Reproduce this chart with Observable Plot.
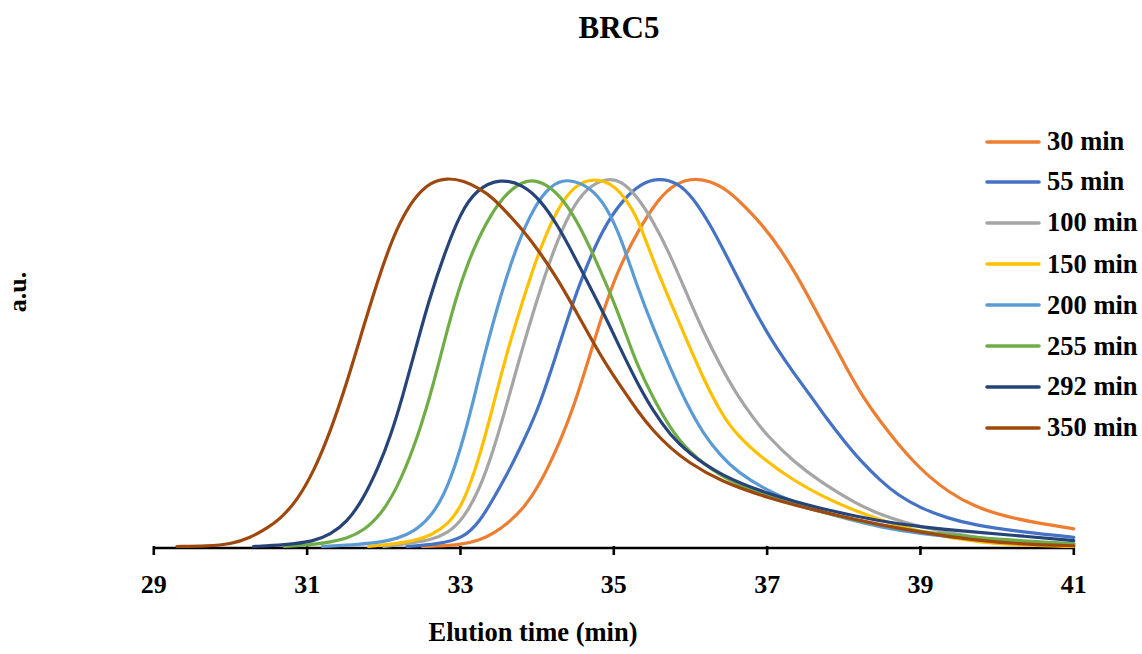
<!DOCTYPE html>
<html>
<head>
<meta charset="utf-8">
<script src="https://cdn.jsdelivr.net/npm/d3@7"></script>
<script src="https://cdn.jsdelivr.net/npm/@observablehq/plot@0.6"></script>
<style>
  html, body { margin: 0; padding: 0; background: #fff; }
  #wrap { position: relative; width: 1142px; height: 654px; font-family: "Liberation Serif", "Times New Roman", serif; font-weight: bold; color: #000; }
  #chart { position: absolute; left: 0; top: 0; }
  .title { position: absolute; left: 0; width: 1238px; top: 10px; text-align: center; font-size: 31px; }
  .xlab { position: absolute; left: 333px; width: 400px; top: 617px; text-align: center; font-size: 26.5px; }
  .ylab { position: absolute; left: 18px; top: 292px; font-size: 26px; transform: translate(-50%, -50%) rotate(-90deg); white-space: nowrap; }
  .legend { position: absolute; left: 985px; top: 0; }
  .legend .row { position: absolute; left: 0; height: 30px; display: flex; align-items: center; white-space: nowrap; font-size: 26.5px; }
  .legend svg { display: block; margin-right: 6px; }
</style>
</head>
<body>
<div id="wrap">
  <div id="chart"></div>
  <div class="title">BRC5</div>
  <div class="xlab">Elution time (min)</div>
  <div class="ylab">a.u.</div>
  <div class="legend" id="legend"></div>
</div>
<script>
// Series names and colours
const seriesNames = ["30 min", "55 min", "100 min", "150 min", "200 min", "255 min", "292 min", "350 min"];
const seriesColors = ["#ED7D31", "#4472C4", "#A5A5A5", "#FFC000", "#5B9BD5", "#70AD47", "#264478", "#9E480E"];
const xTicks = [29, 31, 33, 35, 37, 39, 41];

// [elution time (min), normalized signal]
const s30 = [[32.5,0],[33.0,0.003],[33.26,0.018],[33.43,0.035],[33.65,0.068],[33.87,0.115],[34.09,0.19],[34.3,0.285],[34.48,0.38],[34.7,0.527],[34.91,0.67],[35.09,0.765],[35.3,0.85],[35.52,0.925],[35.74,0.978],[36.0,1.0],[36.26,0.993],[36.52,0.962],[36.74,0.916],[36.96,0.867],[37.17,0.808],[37.39,0.735],[37.61,0.65],[37.83,0.565],[38.04,0.482],[38.26,0.402],[38.48,0.338],[38.7,0.28],[38.92,0.228],[39.1,0.192],[39.35,0.15],[39.7,0.108],[40.13,0.08],[40.57,0.062],[41.0,0.048]];
const s55 = [[32.3,0],[32.7,0.006],[33.04,0.022],[33.26,0.07],[33.43,0.13],[33.65,0.212],[33.83,0.29],[34.02,0.375],[34.26,0.527],[34.48,0.672],[34.7,0.79],[34.91,0.88],[35.13,0.943],[35.35,0.984],[35.57,1.0],[35.83,0.989],[36.04,0.945],[36.26,0.873],[36.48,0.785],[36.7,0.695],[36.91,0.612],[37.13,0.536],[37.35,0.47],[37.57,0.408],[37.78,0.346],[38.0,0.287],[38.22,0.232],[38.48,0.178],[38.7,0.14],[39.0,0.104],[39.35,0.077],[39.7,0.058],[40.35,0.039],[41.0,0.025]];
const s100 = [[32.0,0],[32.4,0.01],[32.61,0.018],[32.83,0.035],[33.04,0.075],[33.26,0.16],[33.43,0.262],[33.57,0.36],[33.78,0.518],[34.0,0.672],[34.22,0.808],[34.43,0.91],[34.65,0.975],[34.91,1.0],[35.09,0.993],[35.3,0.952],[35.52,0.88],[35.74,0.79],[35.96,0.681],[36.17,0.582],[36.39,0.491],[36.61,0.41],[36.83,0.346],[37.0,0.301],[37.35,0.229],[37.7,0.175],[38.13,0.12],[38.48,0.085],[39.0,0.052],[39.7,0.024],[40.35,0.01],[41.0,0.004]];
const s150 = [[31.8,0],[32.2,0.008],[32.43,0.018],[32.61,0.03],[32.83,0.058],[33.04,0.115],[33.26,0.25],[33.43,0.385],[33.61,0.53],[33.83,0.68],[34.04,0.81],[34.26,0.915],[34.48,0.98],[34.74,1.0],[35.0,0.984],[35.22,0.925],[35.35,0.87],[35.52,0.772],[35.74,0.663],[35.96,0.555],[36.17,0.455],[36.39,0.365],[36.61,0.3],[37.0,0.229],[37.35,0.179],[37.7,0.138],[38.13,0.098],[38.48,0.072],[39.0,0.039],[39.7,0.012],[40.35,0.003],[41.0,0]];
const s200 = [[31.2,0],[31.7,0.006],[31.96,0.012],[32.17,0.021],[32.39,0.04],[32.61,0.078],[32.83,0.155],[33.04,0.29],[33.22,0.44],[33.3,0.51],[33.52,0.68],[33.74,0.82],[33.96,0.922],[34.17,0.98],[34.39,1.0],[34.7,0.975],[34.91,0.92],[35.09,0.84],[35.3,0.708],[35.52,0.59],[35.74,0.482],[35.96,0.383],[36.17,0.305],[36.39,0.247],[36.61,0.202],[37.0,0.152],[37.35,0.12],[37.7,0.095],[38.0,0.077],[38.48,0.052],[39.0,0.034],[39.7,0.021],[40.35,0.012],[41.0,0.007]];
const s255 = [[30.7,0],[31.1,0.006],[31.3,0.012],[31.52,0.022],[31.74,0.043],[31.96,0.086],[32.17,0.157],[32.39,0.265],[32.61,0.41],[32.78,0.55],[32.96,0.69],[33.17,0.81],[33.39,0.9],[33.61,0.962],[33.87,1.0],[34.13,0.984],[34.35,0.94],[34.57,0.865],[34.78,0.77],[35.0,0.665],[35.17,0.57],[35.3,0.495],[35.52,0.4],[35.74,0.32],[35.96,0.26],[36.39,0.188],[37.0,0.135],[37.7,0.093],[38.48,0.057],[39.0,0.04],[39.7,0.025],[40.35,0.015],[41.0,0.007]];
const s292 = [[30.3,0],[30.7,0.004],[31.09,0.014],[31.3,0.032],[31.52,0.066],[31.72,0.125],[31.92,0.21],[32.09,0.3],[32.25,0.41],[32.4,0.525],[32.59,0.67],[32.8,0.8],[33.0,0.905],[33.2,0.968],[33.52,1.0],[33.83,0.98],[34.04,0.94],[34.26,0.875],[34.48,0.79],[34.7,0.7],[34.91,0.615],[35.09,0.535],[35.3,0.446],[35.52,0.365],[35.74,0.302],[35.96,0.256],[36.39,0.193],[37.0,0.143],[37.7,0.102],[38.48,0.068],[39.0,0.053],[39.7,0.039],[40.35,0.028],[41.0,0.016]];
const s350 = [[29.3,0],[29.7,0.001],[30.0,0.006],[30.26,0.024],[30.48,0.05],[30.65,0.075],[30.87,0.125],[31.09,0.205],[31.3,0.31],[31.52,0.445],[31.74,0.6],[31.96,0.748],[32.17,0.866],[32.39,0.946],[32.61,0.99],[32.83,1.0],[33.04,0.993],[33.26,0.97],[33.43,0.945],[33.61,0.905],[33.83,0.855],[34.04,0.797],[34.26,0.728],[34.48,0.648],[34.7,0.565],[34.91,0.49],[35.09,0.435],[35.3,0.37],[35.52,0.312],[35.74,0.267],[35.96,0.23],[36.39,0.177],[37.0,0.132],[37.7,0.094],[38.48,0.058],[39.0,0.039],[39.7,0.017],[40.35,0.006],[41.0,0.002]];

const seriesData = [s30, s55, s100, s150, s200, s255, s292, s350];

const rows = [];
seriesData.forEach((arr, i) => arr.forEach(([t, v]) => rows.push({series: seriesNames[i], t, v})));

const chart = Plot.plot({
  width: 1142,
  height: 654,
  marginLeft: 153.3,
  marginRight: 68.7,
  marginTop: 177.5,
  marginBottom: 108,
  style: {fontFamily: '"Liberation Serif", "Times New Roman", serif', background: "white", color: "black"},
  x: {domain: [29, 41]},
  y: {domain: [0, 1], axis: null},
  color: {domain: seriesNames, range: seriesColors},
  marks: [
    Plot.ruleY([0], {stroke: "black", strokeWidth: 2.6, dy: 1.5}),
    Plot.axisX({ticks: xTicks, tickFormat: d => String(d), tickSize: 9, tickPadding: 19, strokeWidth: 2.6, fontSize: 26, fontWeight: "bold", label: null}),
    Plot.line(rows, {x: "t", y: "v", z: "series", stroke: "series", curve: "basis", strokeWidth: 3.2})
  ]
});
document.getElementById("chart").appendChild(chart);

// Legend
const legend = document.getElementById("legend");
const rowY = [141.7, 181.7, 222.7, 264, 305, 346, 386.7, 427.7];
seriesNames.forEach((name, i) => {
  const row = document.createElement("div");
  row.className = "row";
  row.style.top = (rowY[i] - 15) + "px";
  row.innerHTML = `<svg width="56" height="6"><line x1="2" x2="54" y1="3" y2="3" stroke="${seriesColors[i]}" stroke-width="3.6" stroke-linecap="round"/></svg><span>${name}</span>`;
  legend.appendChild(row);
});
</script>
</body>
</html>
